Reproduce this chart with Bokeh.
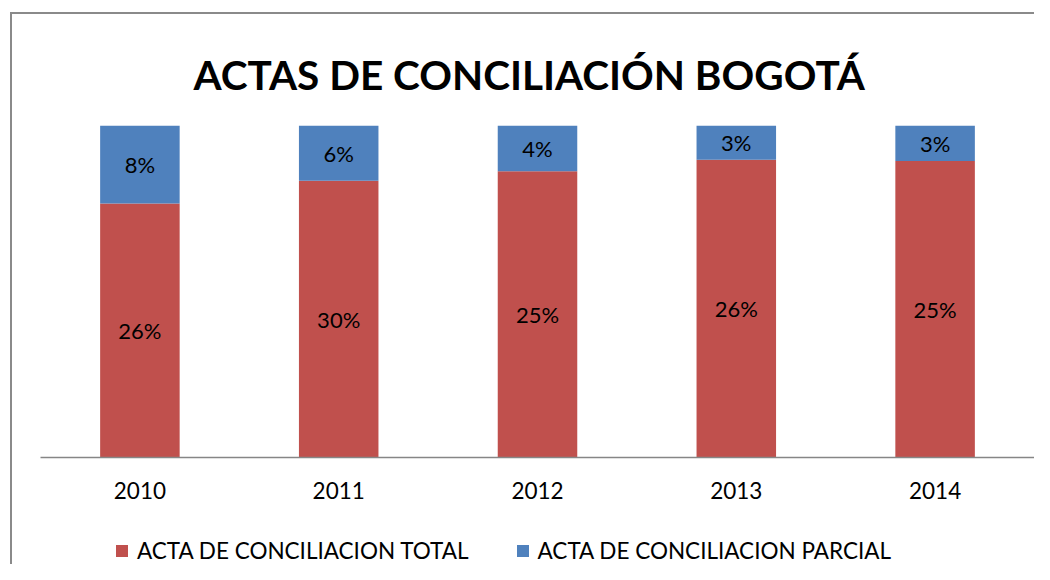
from bokeh.plotting import figure
from bokeh.layouts import column
from bokeh.models import ColumnDataSource, Legend, LegendItem, FactorRange, Range1d, Title
from bokeh.core.properties import value
from bokeh.embed import file_html
from bokeh.resources import INLINE

years = ["2010", "2011", "2012", "2013", "2014"]
total_pct = [26, 30, 25, 26, 25]
parcial_pct = [8, 6, 4, 3, 3]
series_names = ["ACTA DE CONCILIACION TOTAL", "ACTA DE CONCILIACION PARCIAL"]
colors = ["#C0504D", "#4F81BD"]
title_text = "ACTAS DE CONCILIACIÓN BOGOTÁ"

FONT = "Lato"

# 100% stacked shares
share_total = [t / (t + q) for t, q in zip(total_pct, parcial_pct)]
share_parcial = [q / (t + q) for t, q in zip(total_pct, parcial_pct)]

src = ColumnDataSource(dict(
    years=years,
    total=share_total,
    parcial=share_parcial,
    y_total=[s / 2 for s in share_total],
    y_parcial=[s + r / 2 for s, r in zip(share_total, share_parcial)],
    lab_total=[f"{v}%" for v in total_pct],
    lab_parcial=[f"{v}%" for v in parcial_pct],
))

xr = FactorRange(*years, range_padding=0)

W = 1022
p = figure(width=W, height=494, x_range=xr,
           y_range=Range1d(0, 1), output_backend="svg", toolbar_location=None,
           min_border_left=28, min_border_right=0, min_border_top=111,
           min_border_bottom=51)

r = p.vbar_stack(["total", "parcial"], x="years", width=0.4, source=src,
                 color=colors, line_color=None)

p.text(x="years", y="y_total", text="lab_total", source=src,
       text_align="center", text_baseline="middle", text_font=value(FONT),
       text_font_size="22px", text_color="#000000")
p.text(x="years", y="y_parcial", text="lab_parcial", source=src,
       text_align="center", text_baseline="middle", text_font=value(FONT),
       text_font_size="22px", text_color="#000000")

p.title.text = title_text
p.title.align = "left"
p.title.offset = 153
p.title.vertical_align = "top"
p.title.standoff = 26
p.title.text_font = FONT
p.title.text_font_style = "bold"
p.title.text_font_size = "40.5px"
p.title.text_color = "#000000"

# thin spacer title to lift the main title a little
p.add_layout(Title(text=" ", text_font_size="1px", standoff=9), "above")

p.yaxis.visible = False
p.xgrid.grid_line_color = None
p.ygrid.grid_line_color = None
p.outline_line_color = None

ax = p.xaxis[0]
ax.axis_line_color = "#868686"
ax.axis_line_width = 1.5
ax.major_tick_line_color = None
ax.minor_tick_line_color = None
ax.major_tick_out = 0
ax.major_tick_in = 0
ax.major_label_standoff = 24
ax.major_label_text_font = FONT
ax.major_label_text_font_size = "22.5px"
ax.major_label_text_color = "#000000"

# legend strip below the chart (same series, plotted out of view)
lg = figure(width=W, height=56, x_range=xr, y_range=Range1d(5, 6),
            output_backend="svg", toolbar_location=None,
            x_axis_type=None, y_axis_type=None,
            min_border_left=0, min_border_right=0, min_border_top=0, min_border_bottom=0)
lg.xgrid.grid_line_color = None
lg.ygrid.grid_line_color = None
lg.outline_line_color = None
rl = lg.vbar_stack(["total", "parcial"], x="years", width=0.4, source=src,
                   color=colors, line_color=None)

legend = Legend(items=[LegendItem(label=series_names[i], renderers=[rl[i]]) for i in range(2)],
                orientation="horizontal", location=(74, 0),
                label_text_font=FONT, label_text_font_size="22.5px", label_text_color="#000000",
                glyph_width=15, glyph_height=15, label_standoff=8, spacing=46,
                border_line_color=None, background_fill_alpha=0, padding=0, margin=0)
lg.add_layout(legend)

layout = column(p, lg, margin=(12, 0, 0, 10),
                styles={"border-top": "2px solid #8a8a8a", "border-left": "2px solid #8a8a8a"})

open("out.html", "w").write(file_html(layout, INLINE))
